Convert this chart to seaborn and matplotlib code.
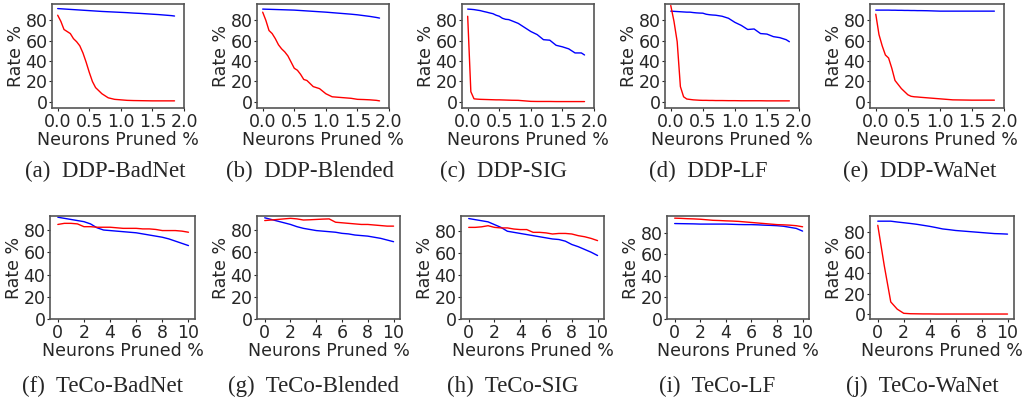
import pandas as pd
import seaborn as sns
import matplotlib.pyplot as plt

# x grids (% neurons pruned)
ddp_x = [0.0, 0.05, 0.1, 0.15, 0.2, 0.25, 0.3, 0.35, 0.4, 0.45, 0.5, 0.55, 0.6,
         0.65, 0.7, 0.8, 0.9, 1.0, 1.1, 1.2, 1.3, 1.4, 1.5, 1.6, 1.7, 1.8, 1.85]
teco_x = [0, 0.5, 1, 1.5, 2, 2.5, 3, 3.5, 4, 4.5, 5, 5.5, 6, 6.5, 7, 7.5, 8,
          8.5, 9, 9.5, 10]

# DDP panels: red = attack success rate, blue = clean accuracy
ddp_badnet_red = [85, 79, 71, 69, 67, 62, 59, 55, 48, 39, 29, 20, 14, 11, 8, 4,
                  2.5, 2, 1.5, 1.3, 1.2, 1.1, 1, 1, 1, 1, 1]
ddp_badnet_blue = [91.5, 91.3, 91.1, 90.9, 90.7, 90.5, 90.3, 90.1, 89.9, 89.7, 89.5,
                   89.3, 89.1, 88.9, 88.7, 88.4, 88.1, 87.8, 87.5, 87.1, 86.8,
                   86.4, 86, 85.6, 85.1, 84.6, 84.2]
ddp_blended_red = [88, 80, 70, 67, 62, 56, 52, 49, 45, 39, 33, 31, 27, 22, 21,
                   15, 13, 8, 5, 4.5, 4, 3.5, 2.5, 2.3, 2, 1.5, 1]
ddp_blended_blue = [91, 90.9, 90.8, 90.7, 90.6, 90.5, 90.4, 90.3, 90.2, 90.1, 90,
                    89.8, 89.6, 89.4, 89.2, 88.8, 88.4, 88, 87.5, 87, 86.5, 86,
                    85.4, 84.6, 83.8, 82.8, 82.2]
ddp_sig_red = [84, 10, 3, 2.7, 2.5, 2.4, 2.3, 2.2, 2.1, 2, 2, 1.9, 1.8, 1.7, 1.6,
               1.5, 1, 0.5, 0.4, 0.4, 0.4, 0.3, 0.3, 0.3, 0.3, 0.3, 0.3]
ddp_sig_blue = [91, 90.8, 90.5, 90, 89.5, 88.7, 88, 87.2, 86.5, 85, 84, 82, 81,
                80.7, 79.5, 77, 73, 69, 66, 61, 60.5, 55.5, 54, 52, 48, 48, 46]
ddp_lf_red = [94.5, 79, 59, 15, 5, 2.8, 2.4, 2, 1.8, 1.6, 1.5, 1.5, 1.4, 1.4,
              1.3, 1.3, 1.2, 1.2, 1.1, 1.1, 1.1, 1.1, 1, 1, 1, 1, 1]
ddp_lf_blue = [89, 88.8, 88.6, 88.4, 88.2, 88, 88, 87.6, 87.3, 87.1, 87, 86,
               85.5, 85.2, 85, 84, 82, 78, 75, 71, 71.5, 67, 66.5, 64, 63, 61, 59]
ddp_wanet_red = [86, 66, 55, 46, 43, 33, 21, 17, 13, 10, 7, 5.5, 5, 4.8, 4.5, 4,
                 3.5, 3, 2.5, 2, 1.9, 1.8, 1.7, 1.7, 1.7, 1.7, 1.7]
ddp_wanet_blue = [90, 90, 90, 90, 90, 89.9, 89.9, 89.8, 89.8, 89.7, 89.7, 89.6,
                  89.6, 89.5, 89.5, 89.4, 89.2, 89, 89, 89, 89, 89, 89, 89, 89,
                  89, 89]

# TeCo panels
teco_badnet_red = [85, 86, 86, 85.5, 83, 83, 82.5, 82.5, 82.5, 82, 81.5, 81.5,
                   81.5, 81, 81, 80.5, 79.5, 79.5, 79.5, 79, 78]
teco_badnet_blue = [91.5, 90.5, 89.5, 88.5, 87.5, 85.5, 82, 80, 79.5, 79, 78.5,
                    78, 77.5, 76.5, 75.5, 74.5, 73.5, 72, 70, 68, 66]
teco_blended_red = [88.5, 89, 89.5, 90, 90.5, 90, 89, 89.2, 89.5, 89.8, 90, 87,
                    86.5, 86, 85.5, 85, 85, 84.5, 84, 83.5, 83.5]
teco_blended_blue = [91, 89.5, 88, 86.5, 85, 83, 81.5, 80.5, 79.5, 79, 78.5, 78,
                     77, 76.5, 75.5, 75, 74.5, 73.5, 72.5, 71, 69.5]
teco_sig_red = [83, 83, 83.5, 84.5, 83, 82.5, 82.5, 81.5, 81, 81, 78.5, 78.5,
                78, 77, 77.5, 77.5, 77, 75.5, 74.5, 73, 71]
teco_sig_blue = [91, 90, 89, 88, 85.5, 83, 79.5, 78.5, 77.5, 76.5, 75.5, 74.5,
                 73.5, 72.5, 72, 70.5, 67.5, 65.5, 63, 60.5, 57.5]
teco_lf_red = [93.5, 93.3, 93, 92.8, 92.5, 92, 91.5, 91.3, 91, 90.8, 90.5, 90,
               89.5, 89, 88.5, 88, 87.5, 87.3, 87, 86.5, 85.5]
teco_lf_blue = [88.5, 88.4, 88.3, 88.2, 88, 88, 88, 88, 88, 87.8, 87.6, 87.5,
                87.5, 87.3, 87, 86.8, 86.5, 86, 85, 84, 81.5]
teco_wanet_red = [86, 47, 12, 5, 1, 0.6, 0.5, 0.4, 0.4, 0.3, 0.3, 0.3, 0.3, 0.3,
                  0.3, 0.3, 0.3, 0.3, 0.3, 0.3, 0.3]
teco_wanet_blue = [90, 90, 90, 89.2, 88.5, 87.8, 87, 86, 85, 83.8, 82.5, 81.8,
                   81, 80.5, 80, 79.5, 79, 78.5, 78, 77.8, 77.5]

captions = ["(a)  DDP-BadNet", "(b)  DDP-Blended", "(c)  DDP-SIG", "(d)  DDP-LF",
            "(e)  DDP-WaNet", "(f)  TeCo-BadNet", "(g)  TeCo-Blended",
            "(h)  TeCo-SIG", "(i)  TeCo-LF", "(j)  TeCo-WaNet"]

panels = [
    (ddp_x, ddp_badnet_red, ddp_badnet_blue),
    (ddp_x, ddp_blended_red, ddp_blended_blue),
    (ddp_x, ddp_sig_red, ddp_sig_blue),
    (ddp_x, ddp_lf_red, ddp_lf_blue),
    (ddp_x, ddp_wanet_red, ddp_wanet_blue),
    (teco_x, teco_badnet_red, teco_badnet_blue),
    (teco_x, teco_blended_red, teco_blended_blue),
    (teco_x, teco_sig_red, teco_sig_blue),
    (teco_x, teco_lf_red, teco_lf_blue),
    (teco_x, teco_wanet_red, teco_wanet_blue),
]

sns.set_style("ticks")
plt.rcParams["font.family"] = ["DejaVu Sans"]
plt.rcParams["font.size"] = 12.5

W, H = 1024, 400
fig = plt.figure(figsize=(W / 100, H / 100), dpi=100)

# axes boxes in pixels: (left, right), row top/bottom
row1_x = [(52, 184), (257, 389), (462, 594), (665, 799), (870, 1004)]
row2_x = [(50, 195), (257, 400), (461, 604), (667, 809), (870, 1014)]
row1_y = (4, 108)
row2_y = (216, 319)
cap_x = [105, 310, 503, 708, 920, 103, 313, 513, 717, 922]
cap_y = [171] * 5 + [386] * 5
ylims = [(-6, 96)] * 5 + [(0, 92.6), (0, 92.6), (0, 93.3), (0, 95.5), (-4.5, 95)]

for i, (x, red, blue) in enumerate(panels):
    (l, r), (t, b) = (row1_x[i], row1_y) if i < 5 else (row2_x[i - 5], row2_y)
    ax = fig.add_axes([l / W, 1 - b / H, (r - l) / W, (b - t) / H])
    df = pd.DataFrame({"x": x, "red": red, "blue": blue})
    sns.lineplot(data=df, x="x", y="blue", color="blue", lw=1, ax=ax)
    sns.lineplot(data=df, x="x", y="red", color="red", lw=1, ax=ax)
    if i < 5:
        ax.set_xlim(-0.09, 2.0)
        ax.set_xticks([0.0, 0.5, 1.0, 1.5, 2.0])
    else:
        ax.set_xlim(-0.6, 10.5)
        ax.set_xticks([0, 2, 4, 6, 8, 10])
    ax.set_ylim(*ylims[i])
    ax.set_yticks([0, 20, 40, 60, 80])
    ax.set_xlabel("Neurons Pruned %", labelpad=0)
    ax.set_ylabel("Rate %", labelpad=0)
    ax.tick_params(length=2.5, width=0.8, pad=0.8, labelsize=12.5)
    for s in ax.spines.values():
        s.set_color("#555555")
        s.set_linewidth(1.2)
    fig.text(cap_x[i] / W, 1 - cap_y[i] / H, captions[i], ha="center", va="center",
             fontsize=16.5, family="Liberation Serif")

plt.savefig("out.png", dpi=100)
